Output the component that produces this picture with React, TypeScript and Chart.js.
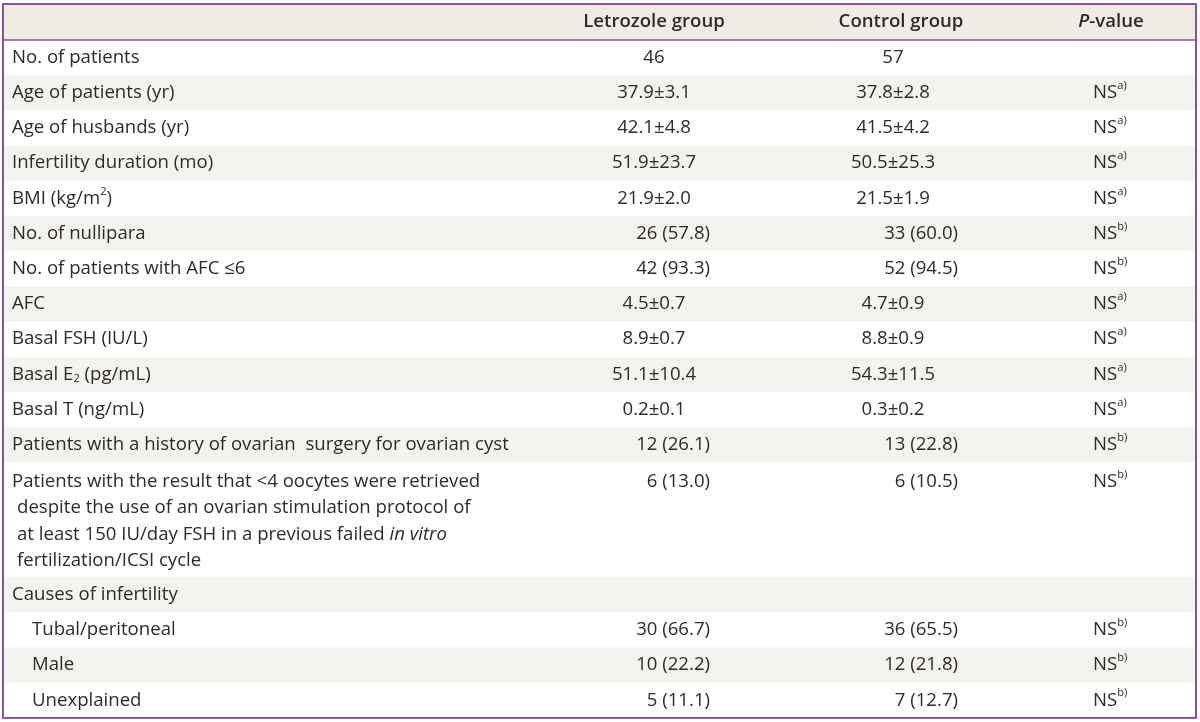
import React, { useEffect, useRef } from "react";
import { Chart, registerables } from "chart.js";

Chart.register(...registerables);

// ---- Data ----
const headers = ["", "Letrozole group", "Control group", "*P*-value"];

const rowLabels = [
  "No. of patients",
  "Age of patients (yr)",
  "Age of husbands (yr)",
  "Infertility duration (mo)",
  "BMI (kg/m^{2})",
  "No. of nullipara",
  "No. of patients with AFC ≤6",
  "AFC",
  "Basal FSH (IU/L)",
  "Basal E_{2} (pg/mL)",
  "Basal T (ng/mL)",
  "Patients with a history of ovarian  surgery for ovarian cyst",
  "Patients with the result that <4 oocytes were retrieved\ndespite the use of an ovarian stimulation protocol of\nat least 150 IU/day FSH in a previous failed *in vitro*\nfertilization/ICSI cycle",
  "Causes of infertility",
  "Tubal/peritoneal",
  "Male",
  "Unexplained",
];

const rowIndent = [0, 0, 0, 0, 0, 0, 0, 0, 0, 0, 0, 0, 0, 0, 1, 1, 1];

const letrozoleValues = [
  "46", "37.9±3.1", "42.1±4.8", "51.9±23.7", "21.9±2.0", "26 (57.8)", "42 (93.3)",
  "4.5±0.7", "8.9±0.7", "51.1±10.4", "0.2±0.1", "12 (26.1)", "6 (13.0)", "",
  "30 (66.7)", "10 (22.2)", "5 (11.1)",
];

const controlValues = [
  "57", "37.8±2.8", "41.5±4.2", "50.5±25.3", "21.5±1.9", "33 (60.0)", "52 (94.5)",
  "4.7±0.9", "8.8±0.9", "54.3±11.5", "0.3±0.2", "13 (22.8)", "6 (10.5)", "",
  "36 (65.5)", "12 (21.8)", "7 (12.7)",
];

const pValues = [
  "", "NS^{a)}", "NS^{a)}", "NS^{a)}", "NS^{a)}", "NS^{b)}", "NS^{b)}",
  "NS^{a)}", "NS^{a)}", "NS^{a)}", "NS^{a)}", "NS^{b)}", "NS^{b)}", "",
  "NS^{b)}", "NS^{b)}", "NS^{b)}",
];

// ---- Style / layout (scale units == px on the 1200x722 canvas) ----
const FONT = '"Open Sans", "Noto Sans", sans-serif';
const FONT_SIZE = 18.6;
const TEXT_COLOR = "#2e2a2b";
const BORDER_COLOR = "#8b5197";
const HEADER_BG = "#efebe5";
const STRIPE_BG = "#f5f3ef";
const TABLE_LEFT = 3;
const TABLE_RIGHT = 1196;
const TABLE_TOP = 4;
const HEADER_H = 36;
const ROW_H = 35.2;
const LINE_H = 26.5;
const LABEL_X = 12;
const INDENT_X = 20;
const CONT_X = 5;
const COLS = {
  letCenter: 654,
  letRight: 710,
  ctlCenter: 893,
  ctlRight: 958,
  ctlHeadCenter: 901,
  pLeft: 1093,
  pHeadCenter: 1111,
};

type Seg = { text: string; italic: boolean; mode: "n" | "sup" | "sub" };

function parseRich(s: string): Seg[] {
  const segs: Seg[] = [];
  const re = /\^\{([^}]*)\}|_\{([^}]*)\}|\*([^*]*)\*/g;
  let last = 0;
  let m: RegExpExecArray | null;
  while ((m = re.exec(s))) {
    if (m.index > last) segs.push({ text: s.slice(last, m.index), italic: false, mode: "n" });
    if (m[1] !== undefined) segs.push({ text: m[1], italic: false, mode: "sup" });
    else if (m[2] !== undefined) segs.push({ text: m[2], italic: false, mode: "sub" });
    else segs.push({ text: m[3], italic: true, mode: "n" });
    last = re.lastIndex;
  }
  if (last < s.length) segs.push({ text: s.slice(last), italic: false, mode: "n" });
  return segs;
}

function segFont(seg: Seg, bold: boolean) {
  const size = seg.mode === "n" ? FONT_SIZE : FONT_SIZE * 0.6;
  return `${seg.italic ? "italic " : ""}${bold ? "600 " : "400 "}${size}px ${FONT}`;
}

function drawRich(
  ctx: CanvasRenderingContext2D,
  s: string,
  x: number,
  y: number,
  align: "left" | "center" | "right",
  bold = false
) {
  const segs = parseRich(s);
  const widths = segs.map((seg) => {
    ctx.font = segFont(seg, bold);
    return ctx.measureText(seg.text).width;
  });
  const total = widths.reduce((a, b) => a + b, 0);
  let cx = align === "left" ? x : align === "center" ? x - total / 2 : x - total;
  segs.forEach((seg, i) => {
    ctx.font = segFont(seg, bold);
    const dy = seg.mode === "sup" ? -7 : seg.mode === "sub" ? 4 : 0;
    ctx.fillText(seg.text, cx, y + dy);
    cx += widths[i];
  });
}

const tablePlugin = {
  id: "tablePlugin",
  beforeDraw(chart: any) {
    const ctx: CanvasRenderingContext2D = chart.ctx;
    const xs = chart.scales.x;
    const ys = chart.scales.y;
    const X = (v: number) => xs.getPixelForValue(v);
    const Y = (v: number) => ys.getPixelForValue(v);

    ctx.save();
    ctx.fillStyle = "#ffffff";
    ctx.fillRect(0, 0, chart.width, chart.height);

    // header band
    const hTop = TABLE_TOP;
    const hBot = TABLE_TOP + HEADER_H;
    ctx.fillStyle = HEADER_BG;
    ctx.fillRect(X(TABLE_LEFT), Y(hTop), X(TABLE_RIGHT) - X(TABLE_LEFT), Y(hBot) - Y(hTop));

    // rows
    let top = hBot;
    const rowTops: number[] = [];
    rowLabels.forEach((label, i) => {
      const lines = label.split("\n").length;
      const h = ROW_H + (lines - 1) * LINE_H;
      rowTops.push(top);
      if (i % 2 === 1) {
        ctx.fillStyle = STRIPE_BG;
        ctx.fillRect(X(TABLE_LEFT), Y(top), X(TABLE_RIGHT) - X(TABLE_LEFT), Y(top + h) - Y(top));
      }
      top += h;
    });
    const tableBottom = top;

    // text
    ctx.fillStyle = TEXT_COLOR;
    ctx.textBaseline = "middle";
    const hMid = Y(hTop + HEADER_H / 2);
    drawRich(ctx, headers[1], X(COLS.letCenter), hMid, "center", true);
    drawRich(ctx, headers[2], X(COLS.ctlHeadCenter), hMid, "center", true);
    drawRich(ctx, headers[3], X(COLS.pHeadCenter), hMid, "center", true);

    rowLabels.forEach((label, i) => {
      const rTop = rowTops[i];
      const firstMid = rTop + ROW_H / 2 + (label.includes("\n") ? 1.5 : 0);
      const lx = LABEL_X + rowIndent[i] * INDENT_X;
      label.split("\n").forEach((line, li) => {
        drawRich(ctx, line, X(lx + (li > 0 ? CONT_X : 0)), Y(firstMid + li * LINE_H), "left");
      });
      const yMid = Y(firstMid);
      const lv = letrozoleValues[i];
      const cv = controlValues[i];
      if (lv) {
        if (lv.includes("(")) drawRich(ctx, lv, X(COLS.letRight), yMid, "right");
        else drawRich(ctx, lv, X(COLS.letCenter), yMid, "center");
      }
      if (cv) {
        if (cv.includes("(")) drawRich(ctx, cv, X(COLS.ctlRight), yMid, "right");
        else drawRich(ctx, cv, X(COLS.ctlCenter), yMid, "center");
      }
      if (pValues[i]) drawRich(ctx, pValues[i], X(COLS.pLeft), yMid, "left");
    });

    // rules
    ctx.strokeStyle = BORDER_COLOR;
    ctx.lineWidth = 1.5;
    ctx.beginPath();
    ctx.moveTo(X(TABLE_LEFT), Y(hBot));
    ctx.lineTo(X(TABLE_RIGHT), Y(hBot));
    ctx.stroke();
    ctx.lineWidth = 2;
    ctx.strokeRect(X(TABLE_LEFT), Y(hTop), X(TABLE_RIGHT) - X(TABLE_LEFT), Y(tableBottom) - Y(hTop));
    ctx.restore();
  },
};

export default function App() {
  const ref = useRef<HTMLCanvasElement | null>(null);
  useEffect(() => {
    document.body.style.margin = "0";
    if (!ref.current) return;
    const chart = new Chart(ref.current, {
      type: "scatter",
      data: { datasets: [{ data: [], pointRadius: 0 }] },
      options: {
        animation: false,
        responsive: false,
        devicePixelRatio: 1,
        layout: { padding: 0 },
        plugins: { legend: { display: false }, tooltip: { enabled: false } },
        scales: {
          x: { type: "linear", min: 0, max: 1200, display: false },
          y: { type: "linear", min: 0, max: 722, reverse: true, display: false },
        },
      },
      plugins: [tablePlugin],
    });
    return () => chart.destroy();
  }, []);
  return (
    <div style={{ width: 1200, height: 722 }}>
      <canvas ref={ref} width={1200} height={722} />
    </div>
  );
}
